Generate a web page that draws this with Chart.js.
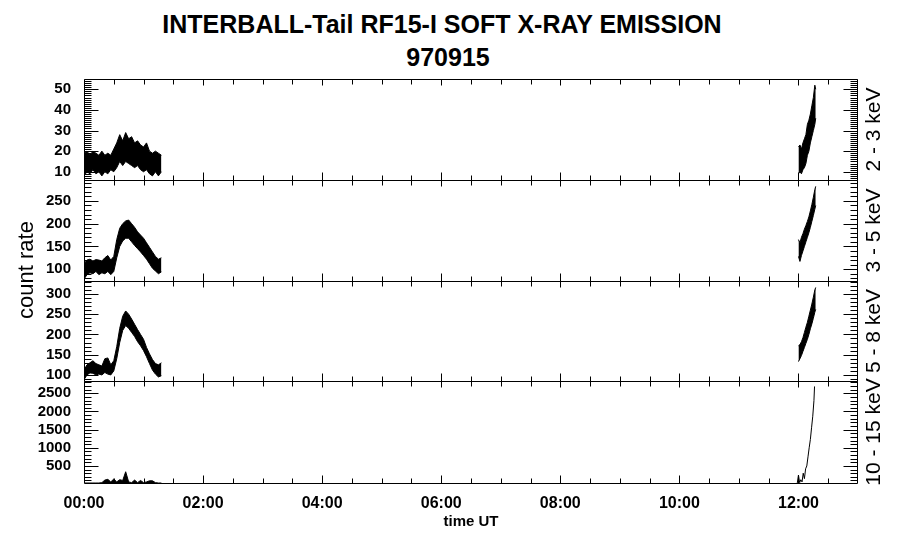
<!DOCTYPE html>
<html>
<head>
<meta charset="utf-8">
<script src="https://cdn.jsdelivr.net/npm/chart.js@4.4.0/dist/chart.umd.min.js"></script>
<style>
  body { margin: 0; background: #fff; }
  #wrap { position: relative; width: 900px; height: 548px; font-family: "Liberation Sans", Arial, Helvetica, sans-serif; }
  #wrap canvas { position: absolute; left: 0; top: 0; }
  .ttl { position: absolute; left: -8px; width: 900px; text-align: center; font-weight: bold; font-size: 25px; color: #000; }
</style>
</head>
<body>
<div id="wrap">
  <div class="ttl" style="top:10px">INTERBALL-Tail RF15-I SOFT X-RAY EMISSION</div>
  <div class="ttl" style="top:43px; left:-2px">970915</div>
  <canvas id="p1" width="900" height="548"></canvas>
  <canvas id="p2" width="900" height="548"></canvas>
  <canvas id="p3" width="900" height="548"></canvas>
  <canvas id="p4" width="900" height="548"></canvas>
</div>
<script>
// time in hours UT
const X_TICKS = [0, 2, 4, 6, 8, 10, 12];
const X_LABELS = ["00:00", "02:00", "04:00", "06:00", "08:00", "10:00", "12:00"];

// first data stretch (start of the day), sampled envelope low / high
const TIME_A = [0, 0.05, 0.1, 0.15, 0.2, 0.25, 0.3, 0.35, 0.4, 0.45, 0.5, 0.55, 0.6, 0.65,
                0.7, 0.75, 0.8, 0.85, 0.9, 0.95, 1.0, 1.05, 1.1, 1.15, 1.2, 1.25, 1.3];
// second data stretch (around 12:00)
const TIME_B = [12.0, 12.025, 12.05, 12.075, 12.1, 12.125, 12.15, 12.175, 12.2, 12.225, 12.25, 12.275, 12.29];
const TIME_D = [11.98, 12.0, 12.02, 12.04, 12.06, 12.08, 12.1, 12.12, 12.14, 12.16, 12.18, 12.2, 12.22, 12.24, 12.26, 12.27];

// 2 - 3 keV
const Y1_TICKS = [10, 20, 30, 40, 50];
const P1_HI_A = [19, 20, 18, 20, 19, 18, 20, 18, 19, 18, 21, 24, 28, 25, 29, 26, 27, 24, 25, 23, 22, 24, 20, 19, 20, 19, 18];
const P1_LO_A = [8, 10, 9, 11, 9, 10, 8, 10, 9, 11, 10, 12, 15, 13, 15, 14, 13, 12, 13, 11, 10, 11, 9, 8, 10, 8, 10];
const P1_HI_B = [22, 23, 21, 24, 26, 28, 33, 35, 38, 42, 46, 52, 50];
const P1_LO_B = [9, 10, 9, 11, 12, 14, 18, 20, 24, 27, 30, 33, 36];

// 3 - 5 keV
const Y2_TICKS = [100, 150, 200, 250];
const P2_HI_A = [112, 120, 122, 118, 121, 120, 118, 125, 130, 120, 128, 165, 190, 200, 206, 208, 200, 192, 182, 175, 168, 158, 148, 138, 128, 122, 125];
const P2_LO_A = [78, 88, 92, 90, 95, 88, 92, 90, 95, 88, 95, 125, 150, 162, 168, 168, 160, 152, 145, 138, 130, 122, 112, 102, 96, 90, 94];
const P2_HI_B = [165, 158, 170, 178, 188, 196, 205, 215, 228, 242, 258, 275, 282];
const P2_LO_B = [128, 117, 130, 140, 150, 160, 170, 180, 192, 205, 218, 232, 240];

// 5 - 8 keV
const Y3_TICKS = [100, 150, 200, 250, 300];
const P3_HI_A = [112, 125, 130, 135, 128, 125, 122, 140, 142, 125, 135, 170, 215, 245, 258, 250, 238, 225, 212, 200, 188, 168, 152, 138, 128, 125, 130];
const P3_LO_A = [88, 100, 105, 104, 100, 102, 100, 106, 102, 100, 110, 140, 180, 210, 222, 215, 205, 195, 182, 172, 160, 145, 128, 112, 102, 95, 98];
const P3_HI_B = [172, 175, 182, 192, 205, 218, 230, 245, 260, 275, 292, 310, 316];
const P3_LO_B = [133, 140, 148, 158, 168, 178, 188, 200, 214, 226, 240, 255, 262];

// 10 - 15 keV
const Y4_TICKS = [500, 1000, 1500, 2000, 2500];
const P4_HI_A = [30, 30, 30, 30, 30, 30, 40, 110, 130, 60, 140, 60, 120, 100, 340, 60, 40, 110, 40, 100, 40, 60, 90, 90, 40, 30, 30];
const P4_D = [30, 250, 40, 120, 60, 300, 150, 420, 500, 750, 1000, 1230, 1550, 1870, 2300, 2690];

const FONT = '"Liberation Sans", Arial, Helvetica, sans-serif';

function pts(ts, vs) {
    return ts.map((t, k) => ({ x: t, y: vs[k] }));
}

function band(hi, lo) {
    return [
        { data: hi, fill: '+1' },
        { data: lo, fill: false }
    ];
}

// IDL style frame: inward ticks on all four sides + side label
const idlFrame = {
    id: 'idlFrame',
    afterDatasetsDraw(chart, args, opts) {
        const { ctx, chartArea: a, scales: { x, y } } = chart;
        const L = Math.round(a.left) + 0.5, R = Math.round(a.right) - 0.5;
        const T = Math.round(a.top) + 0.5, B = Math.round(a.bottom) + 0.5;
        ctx.save();
        ctx.strokeStyle = '#000';
        ctx.lineWidth = 1;
        ctx.beginPath();
        ctx.rect(L, T, R - L, B - T);
        const hy = v => Math.round(y.getPixelForValue(v)) + 0.5;
        const hx = v => Math.round(x.getPixelForValue(v)) + 0.5;
        for (let v = Math.ceil(y.min / opts.minor) * opts.minor; v <= y.max; v += opts.minor) {
            const py = hy(v);
            ctx.moveTo(L, py); ctx.lineTo(L + 7, py);
            ctx.moveTo(R, py); ctx.lineTo(R - 7, py);
        }
        y.ticks.forEach(t => {
            const py = hy(t.value);
            ctx.moveTo(L, py); ctx.lineTo(L + 14, py);
            ctx.moveTo(R, py); ctx.lineTo(R - 14, py);
        });
        for (let v = 0.5; v < x.max; v += 0.5) {
            const px = hx(v);
            const major = X_TICKS.includes(v);
            ctx.moveTo(px, B); ctx.lineTo(px, B - (major ? 8 : 5));
            ctx.moveTo(px, T); ctx.lineTo(px, T + (major ? 6 : 5));
        }
        ctx.stroke();

        ctx.fillStyle = '#000';
        ctx.font = '21px ' + FONT;
        ctx.textAlign = 'center';
        ctx.textBaseline = 'alphabetic';
        ctx.translate(880, (a.top + a.bottom) / 2);
        ctx.rotate(-Math.PI / 2);
        ctx.fillText(opts.side, 0, 0);
        ctx.restore();

        if (opts.leftTitle) {
            ctx.save();
            ctx.fillStyle = '#000';
            ctx.font = '22px ' + FONT;
            ctx.textAlign = 'center';
            ctx.textBaseline = 'alphabetic';
            ctx.translate(33, 270);
            ctx.rotate(-Math.PI / 2);
            ctx.fillText(opts.leftTitle, 0, 0);
            ctx.restore();
        }
    }
};

const PANELS = [
    { id: 'p1', top: 79, bottom: 180, min: 6, max: 55, ticks: Y1_TICKS, minor: 1, side: '2 - 3 keV',
      datasets: [...band(pts(TIME_A, P1_HI_A), pts(TIME_A, P1_LO_A)), ...band(pts(TIME_B, P1_HI_B), pts(TIME_B, P1_LO_B))] },
    { id: 'p2', top: 180, bottom: 281, min: 74, max: 296, ticks: Y2_TICKS, minor: 10, side: '3 - 5 keV', leftTitle: 'count rate',
      datasets: [...band(pts(TIME_A, P2_HI_A), pts(TIME_A, P2_LO_A)), ...band(pts(TIME_B, P2_HI_B), pts(TIME_B, P2_LO_B))] },
    { id: 'p3', top: 281, bottom: 381, min: 85, max: 332, ticks: Y3_TICKS, minor: 10, side: '5 - 8 keV',
      datasets: [...band(pts(TIME_A, P3_HI_A), pts(TIME_A, P3_LO_A)), ...band(pts(TIME_B, P3_HI_B), pts(TIME_B, P3_LO_B))] },
    { id: 'p4', top: 381, bottom: 483, min: 30, max: 2840, ticks: Y4_TICKS, minor: 100, side: '10 - 15 keV',
      datasets: [{ data: pts(TIME_A, P4_HI_A), fill: 'start' }, { data: pts(TIME_D, P4_D), fill: false }] }
];

PANELS.forEach((p, i) => {
    const last = i === PANELS.length - 1;
    p.datasets.forEach(d => {
        d.borderColor = '#000';
        d.backgroundColor = '#000';
        d.borderWidth = 1;
        d.pointRadius = 0;
        d.tension = 0;
    });
    new Chart(document.getElementById(p.id), {
        type: 'line',
        data: { datasets: p.datasets },
        options: {
            responsive: false,
            animation: false,
            devicePixelRatio: 1,
            layout: { padding: { left: 0, right: 42, top: p.top, bottom: last ? 0 : 548 - p.bottom } },
            plugins: {
                legend: { display: false },
                tooltip: { enabled: false },
                idlFrame: { minor: p.minor, side: p.side, leftTitle: p.leftTitle }
            },
            scales: {
                x: {
                    type: 'linear', min: 0, max: 13, display: last,
                    afterFit: s => { s.height = last ? 65 : 0; },
                    afterBuildTicks: s => { s.ticks = X_TICKS.map(v => ({ value: v })); },
                    grid: { display: false },
                    border: { display: false },
                    ticks: {
                        autoSkip: false, maxRotation: 0, padding: 3, color: '#000',
                        font: { family: FONT, size: 16, weight: 'bold' },
                        callback: (v, k) => X_LABELS[k]
                    },
                    title: { display: true, text: 'time UT', color: '#000', padding: 17,
                             font: { family: FONT, size: 15, weight: 'bold' } }
                },
                y: {
                    min: p.min, max: p.max, position: 'left',
                    afterFit: s => { s.width = 84; },
                    afterBuildTicks: s => { s.ticks = p.ticks.map(v => ({ value: v })); },
                    grid: { display: false },
                    border: { display: false },
                    ticks: { autoSkip: false, padding: 5, color: '#000',
                             font: { family: FONT, size: 15, weight: 'bold' },
                             callback: v => String(v) }
                }
            }
        },
        plugins: [idlFrame]
    });
});
</script>
</body>
</html>
